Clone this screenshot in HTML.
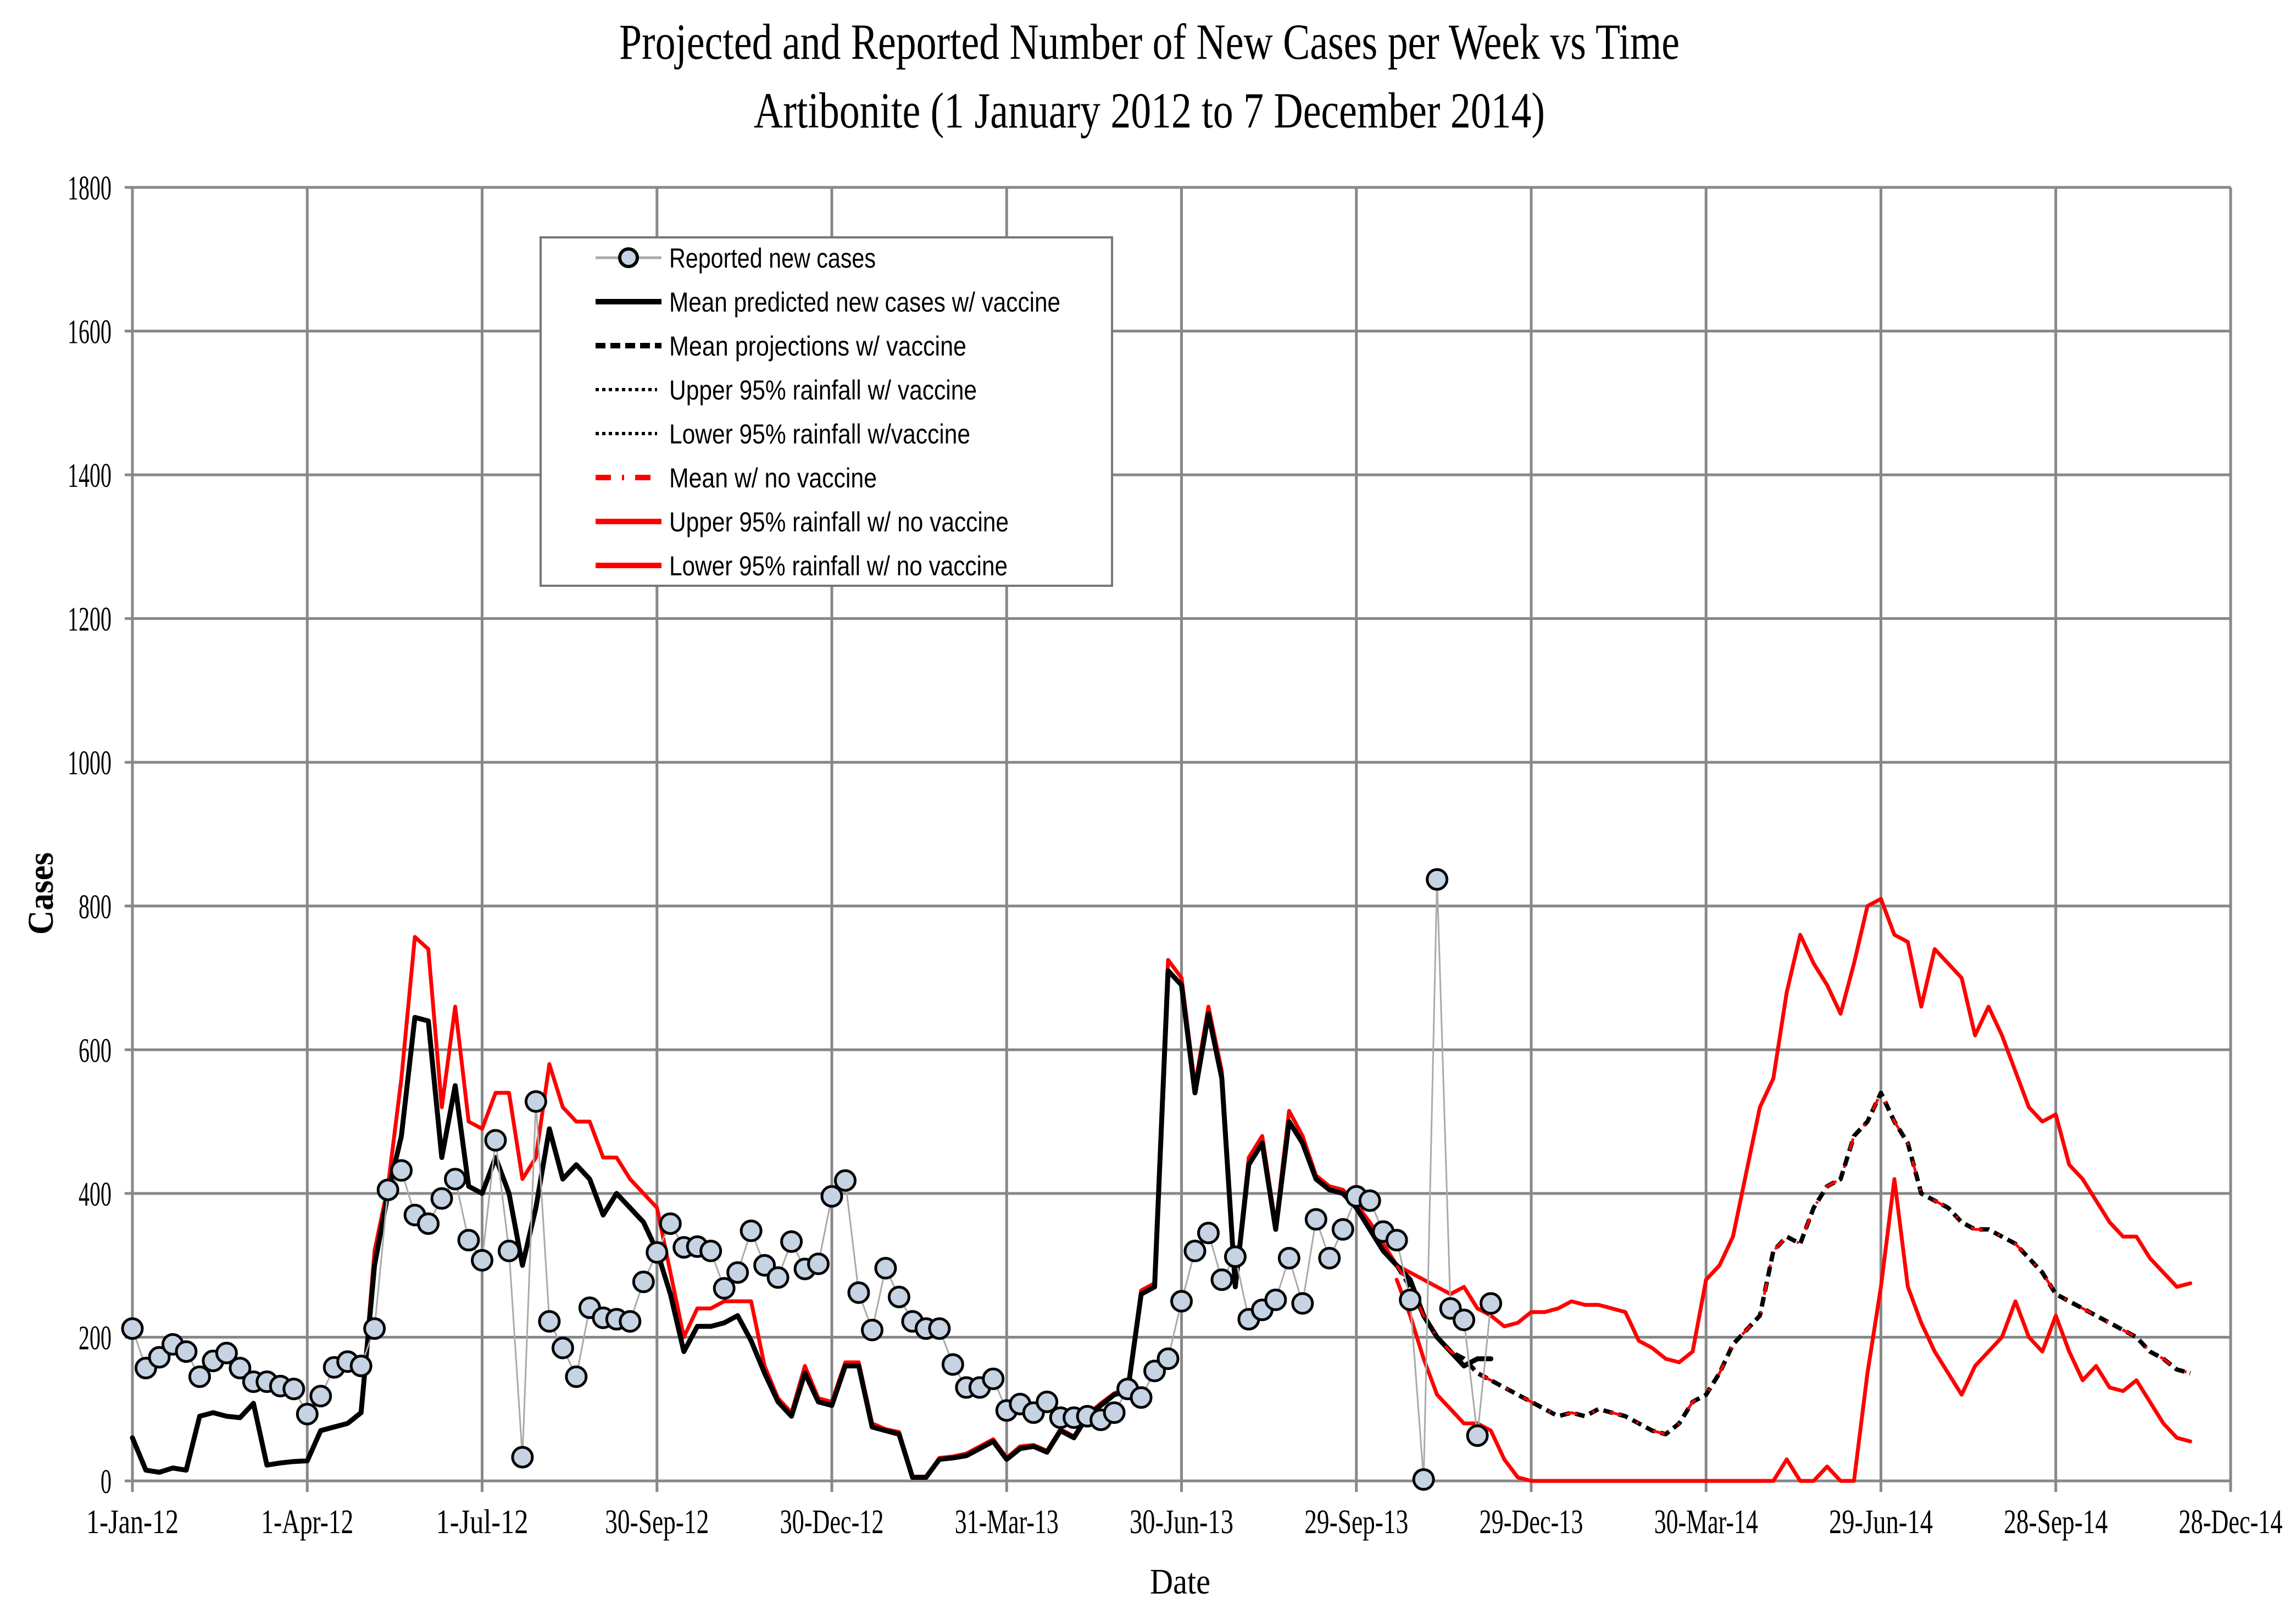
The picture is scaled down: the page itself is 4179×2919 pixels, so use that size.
<!DOCTYPE html>
<html><head><meta charset="utf-8"><style>html,body{margin:0;padding:0;background:#fff}svg{display:block}</style></head>
<body>
<svg id="chart" xmlns="http://www.w3.org/2000/svg" width="4179" height="2919" viewBox="0 0 4179 2919">
<rect width="4179" height="2919" fill="#fff"/>
<text x="2092" y="107" text-anchor="middle" font-family="Liberation Serif, serif" font-size="92" textLength="1930" lengthAdjust="spacingAndGlyphs">Projected and Reported Number of New Cases per Week vs Time</text>
<text x="2092" y="232" text-anchor="middle" font-family="Liberation Serif, serif" font-size="92" textLength="1440" lengthAdjust="spacingAndGlyphs">Artibonite (1 January 2012 to 7 December 2014)</text>
<g id="grid"></g>
<g id="series"></g>
<text x="2148" y="2900" text-anchor="middle" font-family="Liberation Serif, serif" font-size="66" textLength="110" lengthAdjust="spacingAndGlyphs">Date</text>
<text transform="translate(96,1626) rotate(-90)" text-anchor="middle" font-family="Liberation Serif, serif" font-size="66" font-weight="bold" textLength="150" lengthAdjust="spacingAndGlyphs">Cases</text>
<g>
<rect x="984" y="432" width="1040" height="634" fill="#fff" stroke="#777" stroke-width="4"/>
<line x1="1084" y1="469" x2="1204" y2="469" stroke="#aaa" stroke-width="5"/>
<circle cx="1144" cy="469" r="16" fill="#c5d3e3" stroke="#000" stroke-width="6"/>
<line x1="1084" y1="549" x2="1204" y2="549" stroke="#000" stroke-width="10"/>
<line x1="1084" y1="629" x2="1204" y2="629" stroke="#000" stroke-width="10" stroke-dasharray="18,9"/>
<line x1="1084" y1="709" x2="1196" y2="709" stroke="#000" stroke-width="6" stroke-dasharray="6,6"/>
<line x1="1084" y1="789" x2="1196" y2="789" stroke="#000" stroke-width="6" stroke-dasharray="6,6"/>
<line x1="1084" y1="869" x2="1184" y2="869" stroke="#f00" stroke-width="10" stroke-dasharray="28,20,4,20"/>
<line x1="1084" y1="949" x2="1204" y2="949" stroke="#f00" stroke-width="10"/>
<line x1="1084" y1="1029" x2="1204" y2="1029" stroke="#f00" stroke-width="10"/>
<g font-family="Liberation Sans, sans-serif" font-size="50" fill="#000">
<text x="1218" y="487" textLength="376" lengthAdjust="spacingAndGlyphs">Reported new cases</text>
<text x="1218" y="567" textLength="712" lengthAdjust="spacingAndGlyphs">Mean predicted new cases w/ vaccine</text>
<text x="1218" y="647" textLength="541" lengthAdjust="spacingAndGlyphs">Mean projections w/ vaccine</text>
<text x="1218" y="727" textLength="560" lengthAdjust="spacingAndGlyphs">Upper 95% rainfall w/ vaccine</text>
<text x="1218" y="807" textLength="548" lengthAdjust="spacingAndGlyphs">Lower 95% rainfall w/vaccine</text>
<text x="1218" y="887" textLength="378" lengthAdjust="spacingAndGlyphs">Mean w/ no vaccine</text>
<text x="1218" y="967" textLength="618" lengthAdjust="spacingAndGlyphs">Upper 95% rainfall w/ no vaccine</text>
<text x="1218" y="1047" textLength="616" lengthAdjust="spacingAndGlyphs">Lower 95% rainfall w/ no vaccine</text>
</g>
</g>
</svg>
<script>
const xTickLabels = ["1-Jan-12","1-Apr-12","1-Jul-12","30-Sep-12","30-Dec-12","31-Mar-13","30-Jun-13","29-Sep-13","29-Dec-13","30-Mar-14","29-Jun-14","28-Sep-14","28-Dec-14"];
const yTickLabels = [0,200,400,600,800,1000,1200,1400,1600,1800];
const reported = [212,157,172,190,180,145,167,178,157,138,138,132,128,93,118,158,166,160,212,405,432,370,358,393,420,335,307,474,320,33,528,222,185,145,241,227,225,222,277,318,358,325,326,320,268,290,348,300,283,333,295,302,396,418,262,210,296,256,222,212,212,162,130,130,142,98,107,95,110,88,88,90,85,95,128,116,153,170,250,320,345,280,312,225,238,252,310,247,364,310,350,396,390,347,335,252,2,837,240,224,63,247];
const fitVaccine = [60,15,12,18,15,90,95,90,88,108,22,25,27,28,70,75,80,95,300,400,480,645,640,450,550,410,400,450,400,300,380,490,420,440,420,370,400,380,360,320,260,180,215,215,220,230,195,150,110,90,150,110,105,160,160,75,70,65,5,5,30,32,35,45,55,30,45,48,40,70,60,90,105,120,125,260,270,710,690,540,650,560,270,440,470,350,500,470,420,405,400,380,350,320,300,280,230,200,180,160,170,170];
const fitNoVaccine = [60,15,12,18,15,90,95,90,88,108,22,25,27,28,70,75,80,95,320,410,560,757,740,520,660,500,490,540,540,420,450,580,520,500,500,450,450,420,400,380,290,200,240,240,250,250,250,160,115,95,160,115,110,165,165,80,72,68,6,6,32,34,38,48,58,32,48,50,42,72,62,92,108,122,128,265,275,725,700,550,660,570,275,450,480,355,515,480,425,410,405,385,360,330,300];
const projStart = 94;
const projMean = [300,270,230,200,180,170,150,140,130,120,110,100,90,95,90,100,95,90,80,70,65,80,110,120,150,190,210,230,320,340,330,380,410,420,480,500,540,500,470,400,390,380,360,350,350,340,330,310,290,260,250,240,230,220,210,200,180,170,155,150];
const upperNoVac = [300,290,280,270,260,270,240,230,215,220,235,235,240,250,245,245,240,235,195,185,170,165,180,280,300,340,430,520,560,680,760,720,690,650,720,800,810,760,750,660,740,720,700,620,660,620,570,520,500,510,440,420,390,360,340,340,310,290,270,275];
const lowerNoVac = [280,230,170,120,100,80,80,70,30,5,0,0,0,0,0,0,0,0,0,0,0,0,0,0,0,0,0,0,0,30,0,0,20,0,0,150,270,420,270,220,180,150,120,160,180,200,250,200,180,230,180,140,160,130,125,140,110,80,60,55];

const NS='http://www.w3.org/2000/svg';
const L=241,R=4060,T=341,B=2695;
const weekPx=(R-L)/(1092/7);
function xw(w){return L+w*weekPx;}
function yv(v){return B-v*(B-T)/1800;}
function mk(tag,attrs,parent){const e=document.createElementNS(NS,tag);for(const k in attrs)e.setAttribute(k,attrs[k]);parent.appendChild(e);return e;}
const grid=document.getElementById('grid');
const series=document.getElementById('series');
yTickLabels.forEach(v=>{
  const ln=mk('line',{x1:L-14,x2:R,y1:yv(v),y2:yv(v),stroke:'#888','stroke-width':5},grid);
  
  
  const t=mk('text',{x:203,y:yv(v)+22,'text-anchor':'end','font-family':'Liberation Serif, serif','font-size':62,textLength:String(v).length*20,lengthAdjust:'spacingAndGlyphs'},grid);
  t.textContent=v;
  
  
});
xTickLabels.forEach((s,i)=>{
  const x=L+i*(R-L)/12;
  const ln=mk('line',{x1:x,x2:x,y1:T,y2:B+20,stroke:'#888','stroke-width':5},grid);
  
  
  const t=mk('text',{x:x,y:2790,'text-anchor':'middle','font-family':'Liberation Serif, serif','font-size':62,textLength:s.length*21,lengthAdjust:'spacingAndGlyphs'},grid);
  t.textContent=s;
  
  
});
function pts(arr,off){return arr.map((v,i)=>xw(i+off).toFixed(1)+','+yv(v).toFixed(1)).join(' ');}
function poly(arr,off,attrs,name){const p=mk('polyline',Object.assign({points:pts(arr,off),fill:'none','stroke-linejoin':'round','stroke-linecap':'round'},attrs),series);return p;}
poly(upperNoVac,projStart,{stroke:'#f00','stroke-width':7},'upper-95-no-vaccine-line');
poly(lowerNoVac,projStart,{stroke:'#f00','stroke-width':7},'lower-95-no-vaccine-line');
poly(fitNoVaccine,0,{stroke:'#f00','stroke-width':7},'mean-no-vaccine-fit-line');
poly(fitVaccine,0,{stroke:'#000','stroke-width':9},'mean-predicted-vaccine-line');
poly(projMean,projStart,{stroke:'#000','stroke-width':8,'stroke-dasharray':'18,10','stroke-linecap':'butt'},'mean-projection-vaccine-line');
poly(projMean,projStart,{stroke:'#f00','stroke-width':5,'stroke-dasharray':'22,30,4,30','stroke-linecap':'butt'},'mean-no-vaccine-projection-line');
poly(reported,0,{stroke:'#aaa','stroke-width':3},'reported-cases-line');
reported.forEach((v,i)=>{
  const c=mk('circle',{cx:xw(i),cy:yv(v),r:18,fill:'#c5d3e3',stroke:'#000','stroke-width':5},series);
  
  
});
</script>
</body></html>
